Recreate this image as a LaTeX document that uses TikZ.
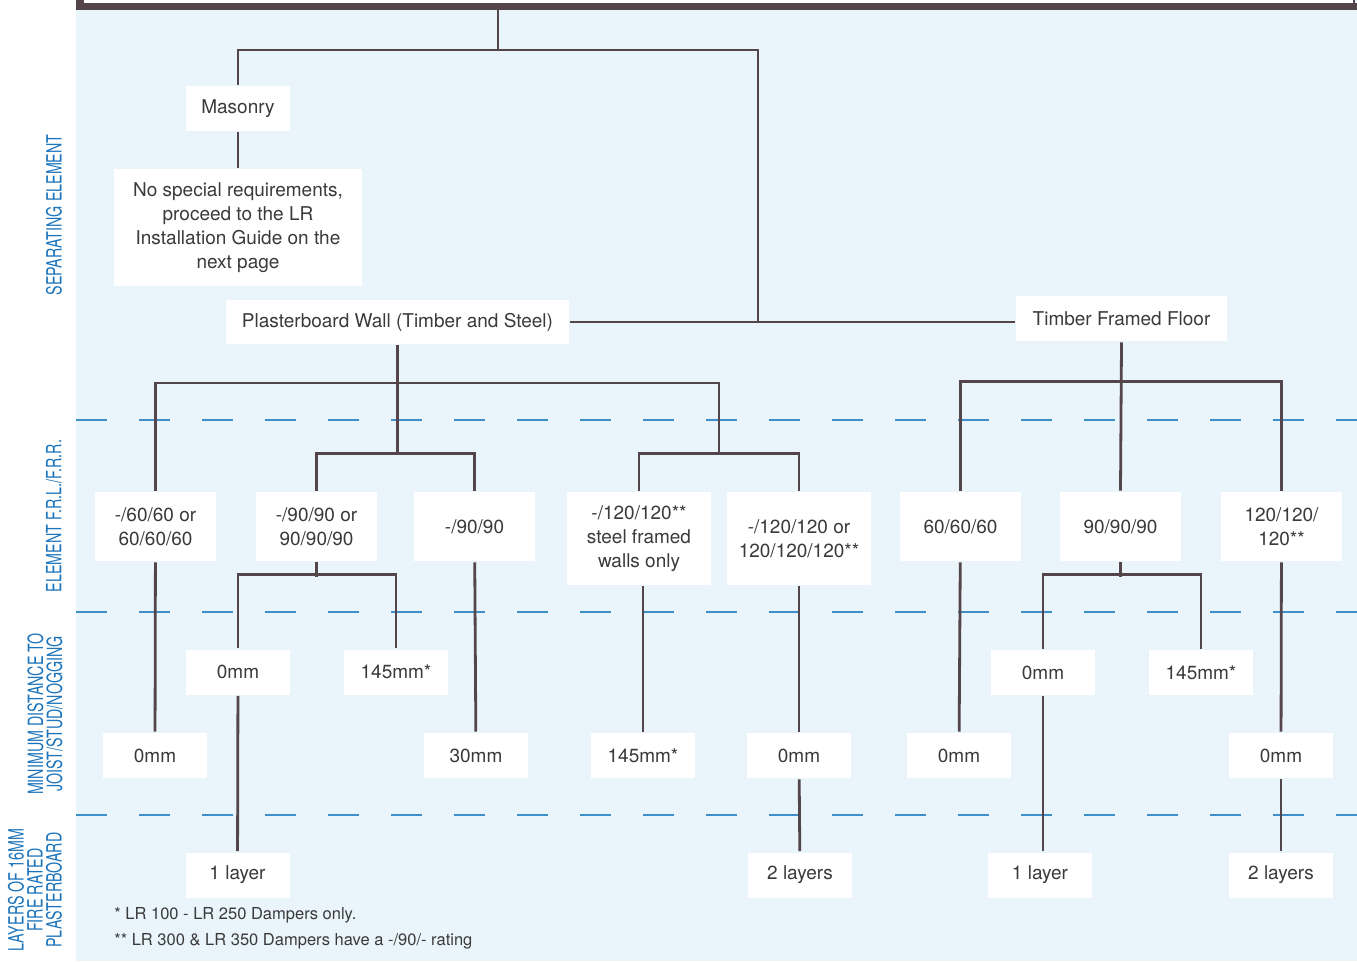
\documentclass[tikz,border=0pt]{standalone}
\usepackage{fontspec}
\setmainfont{TeX Gyre Heros}
\newfontfamily\condfont[FakeStretch=0.68]{TeX Gyre Heros}
\definecolor{bgblue}{HTML}{E9F4FB}
\definecolor{linecol}{HTML}{53454A}
\definecolor{dashcol}{HTML}{3F8FCB}
\definecolor{labelblue}{HTML}{1C75BC}
\definecolor{textcol}{HTML}{3A3A3A}
\begin{document}
\begin{tikzpicture}[x=1pt, y=-1pt, line width=2.8pt, linecol,
    box/.style={fill=white, inner sep=0pt, minimum width=104, minimum height=45,
                align=center, text=textcol, font=\fontsize{19}{24}\selectfont},
    rating/.style={box, minimum width=121, minimum height=69},
    tallrating/.style={box, minimum width=144, minimum height=93},
    sidelabel/.style={rotate=90, align=center, text=labelblue, inner sep=0pt,
                      font=\condfont\fontsize{21}{19}\selectfont},
    dashline/.style={dashcol, line width=2pt, dash pattern=on 31pt off 32pt}]
    \useasboundingbox (0,0) rectangle (1357,961);
    \fill[white] (0,0) rectangle (1357,961);
    \fill[bgblue] (76,0) rectangle (1357,961);
    % frame above
    \fill[white] (80,-10) rectangle (1354,5);
    \draw[line width=7pt] (76,6.5) -- (1357,6.5);
    \draw[line width=8pt] (80,0) -- (80,10);
    \draw[line width=2pt] (1354,0) -- (1354,6);

    % row labels
    \node[sidelabel](L1) at (54, 215) {SEPARATING ELEMENT};
    \node[sidelabel](L2) at (54, 516) {ELEMENT F.R.L./F.R.R.};
    \node[sidelabel](L3) at (45, 714) {MINIMUM DISTANCE TO\\JOIST/STUD/NOGGING};
    \node[sidelabel](L4) at (35, 890) {LAYERS OF 16MM\\FIRE RATED\\PLASTERBOARD};

    \foreach \y in {420, 612, 815}
      \draw[dashline] (76,\y) -- (1357,\y);

    % separating element
    \coordinate(top) at (498, 9);
    \coordinate(split) at (498, 50);
    \coordinate(mid) at (758, 322);
    \node[box](Masonry) at (238, 108.5) {Masonry};
    \node[box, minimum width=248, minimum height=117](NoReq) at (238, 227.5)
      {No special requirements,\\proceed to the LR\\Installation Guide on the\\next page};
    \node[box, minimum width=343, minimum height=44](PlWall) at (397.5, 322)
      {Plasterboard Wall (Timber and Steel)};
    \node[box, minimum width=211](TimberFloor) at (1121.5, 318.5) {Timber Framed Floor};

    % element ratings
    \node[rating](Wall60) at (155.5, 526.5) {-/60/60 or\\60/60/60};
    \node[rating](Wall90a) at (316.5, 526.5) {-/90/90 or\\90/90/90};
    \node[rating](Wall90b) at (474.5, 526.5) {-/90/90};
    \node[tallrating](Wall120s) at (639, 538.5) {-/120/120**\\steel framed\\walls only};
    \node[tallrating](Wall120) at (799, 538.5) {-/120/120 or\\120/120/120**};
    \node[rating](Floor60) at (960.5, 526.5) {60/60/60};
    \node[rating](Floor90) at (1120.5, 526.5) {90/90/90};
    \node[rating](Floor120) at (1281.5, 526.5) {120/120/\\120**};

    % distances
    \node[box](Wall90aZero) at (238, 672) {0mm};
    \node[box](Wall90aSteel) at (396, 672) {145mm*};
    \node[box](Floor90Zero) at (1043, 672.5) {0mm};
    \node[box](Floor90Steel) at (1201, 672.5) {145mm*};
    \node[box](Wall60Zero) at (155, 755.5) {0mm};
    \node[box](Wall90b30) at (476, 755.5) {30mm};
    \node[box](Wall120s145) at (643, 755.5) {145mm*};
    \node[box](Wall120Zero) at (799, 755.5) {0mm};
    \node[box](Floor60Zero) at (959, 755.5) {0mm};
    \node[box](Floor120Zero) at (1281, 755.5) {0mm};

    % layers
    \node[box](Layer1a) at (237.5, 875) {1 layer};
    \node[box](Layer2a) at (800, 875) {2 layers};
    \node[box](Layer1b) at (1040, 875) {1 layer};
    \node[box](Layer2b) at (1281, 875) {2 layers};

    % notes
    \node[anchor=west, inner sep=0pt, text=textcol, font=\fontsize{16.5}{26}\selectfont, align=left]
      (Notes) at (113, 928) {* LR 100 - LR 250 Dampers only.\\** LR 300 \& LR 350 Dampers have a -/90/- rating};

    % connectors
    \draw (top) -- (split);
    \draw (Masonry.north) |- (mid |- split) -- (mid);
    \draw (Masonry) -- (NoReq);
    \draw (PlWall.east) -- (PlWall.east -| TimberFloor.west);

    \draw (PlWall.south) -- (397.5, 455);
    \draw (Wall60.north) |- (719, 383) -- (719, 455);
    \draw (Wall90a.north) -- ++(0,-37) -| (Wall90b.north);
    \draw (Wall120s.north) -- ++(0,-37) -| (Wall120.north);
    \draw (TimberFloor.south) -- (Floor90.north);
    \draw (Floor60.north) -- ++(0,-109) -| (Floor120.north);

    \draw (Wall60) -- (Wall60Zero);
    \draw (Wall90a.south) -- ++(0,15);
    \draw (Wall90aZero.north) -- ++(0,-74) -| (Wall90aSteel.north);
    \draw (Wall90aZero) -- (Layer1a);
    \draw (Wall90b) -- (Wall90b30);
    \draw (Wall120s145.north) -- (Wall120s145 |- Wall120s.south);
    \draw (Wall120) -- (Wall120Zero);
    \draw (Wall120Zero) -- (Layer2a);
    \draw (Floor60) -- (Floor60Zero);
    \draw (Floor90.south) -- ++(0,15);
    \draw (Floor90Zero.north) -- ++(0,-74) -| (Floor90Steel.north);
    \draw (Floor90Zero.south) -- (Floor90Zero.south |- Layer1b.north);
    \draw (Floor120) -- (Floor120Zero);
    \draw (Floor120Zero) -- (Layer2b);
  \end{tikzpicture}
\end{document}
